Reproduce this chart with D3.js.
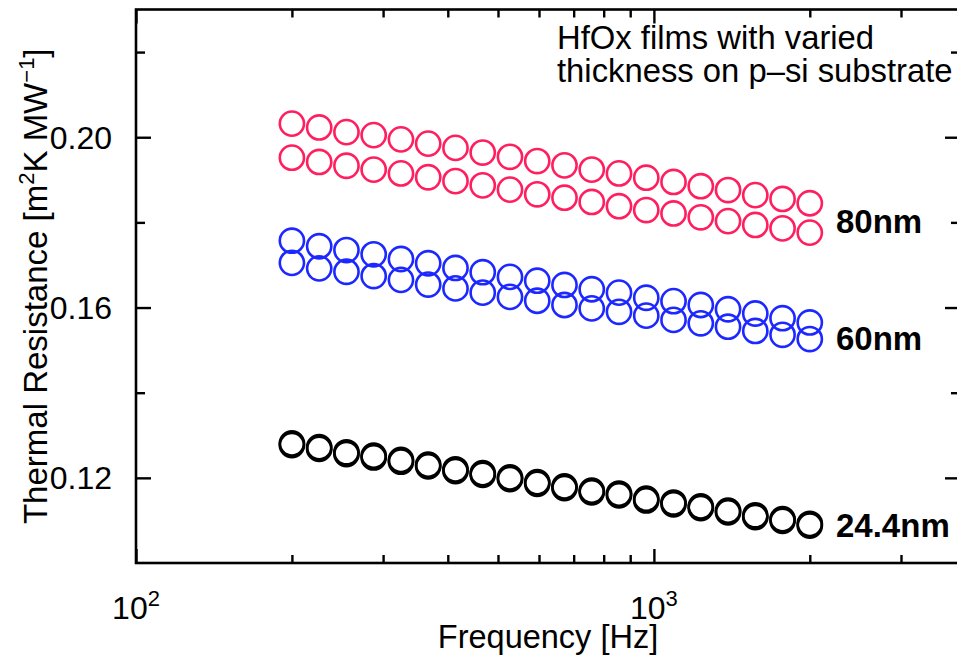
<!DOCTYPE html>
<html>
<head>
<meta charset="utf-8">
<script src="https://cdn.jsdelivr.net/npm/d3@7"></script>
<style>
  html, body { margin: 0; padding: 0; background: #fff; }
  svg { display: block; font-family: "Liberation Sans", Arial, Helvetica, sans-serif; }
</style>
</head>
<body>
<svg id="chart" width="957" height="660"></svg>
<script>
// Measurement frequencies [Hz]
const freq = [200, 225.8, 254.9, 287.7, 324.8, 366.6, 413.9, 467.2, 527.4, 595.3,
              672.0, 758.6, 856.3, 966.6, 1091.2, 1231.8, 1390.5, 1569.6, 1771.9, 2000];

// Thermal resistance [m^2 K / MW] per film
const r80a = [0.2032, 0.2023, 0.2012, 0.2005, 0.1995, 0.1985, 0.1975, 0.1964, 0.1954, 0.1944,
              0.1934, 0.1924, 0.1915, 0.1905, 0.1895, 0.1885, 0.1876, 0.1864, 0.1855, 0.1845];
const r80b = [0.1952, 0.1942, 0.1933, 0.1924, 0.1915, 0.1906, 0.1897, 0.1887, 0.1877, 0.1866,
              0.1858, 0.1848, 0.1838, 0.1829, 0.1821, 0.1812, 0.1803, 0.1794, 0.1786, 0.1776];
const r60a = [0.1757, 0.1744, 0.1735, 0.1725, 0.1714, 0.1704, 0.1693, 0.1683, 0.1672, 0.1663,
              0.1653, 0.1643, 0.1635, 0.1623, 0.1615, 0.1606, 0.1596, 0.1586, 0.1575, 0.1565];
const r60b = [0.1705, 0.1692, 0.1684, 0.1674, 0.1665, 0.1654, 0.1645, 0.1635, 0.1625, 0.1616,
              0.1606, 0.1598, 0.1590, 0.1581, 0.1571, 0.1563, 0.1555, 0.1545, 0.1536, 0.1526];
const r24a = [0.1281, 0.1272, 0.1260, 0.1252, 0.1242, 0.1231, 0.1220, 0.1211, 0.1201, 0.1190,
              0.1180, 0.1170, 0.1163, 0.1151, 0.1142, 0.1133, 0.1123, 0.1112, 0.1103, 0.1092];
const r24b = [0.1277, 0.1268, 0.1256, 0.1248, 0.1238, 0.1227, 0.1216, 0.1207, 0.1197, 0.1186,
              0.1176, 0.1166, 0.1159, 0.1147, 0.1138, 0.1129, 0.1119, 0.1108, 0.1099, 0.1088];

const seriesNames = ["80nm A", "80nm B", "60nm A", "60nm B", "24.4nm A", "24.4nm B"];
const seriesValues = [r80a, r80b, r60a, r60b, r24a, r24b];
const seriesColors = ["#ff1f5f", "#ff1f5f", "#1c28ff", "#1c28ff", "#000000", "#000000"];

// Film labels next to the last points
const labelTexts = ["80nm", "60nm", "24.4nm"];

// Axis ticks
const xMajorTicks = [100, 1000];
const xMinorTicks = [200, 300, 400, 500, 600, 700, 800, 900, 2000, 3000];
const yMajorTicks = [0.12, 0.16, 0.20];
const yMinorTicks = [0.14, 0.18, 0.22];
const xExponents = ["2", "3"];

const svg = d3.select("#chart");

const x = d3.scaleLog().domain([100, 3900]).range([136, 960]);
const y = d3.scaleLinear().domain([0.10, 0.23]).range([563, 9.5]);

const plotLeft = x.range()[0], plotRight = x.range()[1];
const plotBottom = y.range()[0], plotTop = y.range()[1];

// Data markers: open circles
const groups = svg.append("g").attr("class", "series");
seriesValues.forEach((vals, i) => {
  groups.append("g")
    .attr("class", "s-" + i)
    .selectAll("circle")
    .data(vals.map((v, j) => ({ f: freq[j], v })))
    .join("circle")
    .attr("cx", d => x(d.f))
    .attr("cy", d => y(d.v))
    .attr("r", 12.1)
    .attr("fill", "none")
    .attr("stroke", seriesColors[i])
    .attr("stroke-width", 2.6);
});

// Axes (ticks point into the plot)
function tickAxis(axisFn, scale, ticks, size, transform) {
  const a = axisFn(scale).tickValues(ticks).tickSizeInner(-size).tickSizeOuter(0).tickFormat("");
  const g = svg.append("g").attr("transform", transform).call(a);
  g.select(".domain").remove();
  g.selectAll(".tick line").attr("stroke", "#000").attr("stroke-width", 2.4);
  return g;
}
tickAxis(d3.axisBottom, x, xMajorTicks, 14, `translate(0,${plotBottom})`);
tickAxis(d3.axisBottom, x, xMinorTicks, 8, `translate(0,${plotBottom})`);
tickAxis(d3.axisTop, x, xMajorTicks, 14, `translate(0,${plotTop})`);
tickAxis(d3.axisTop, x, xMinorTicks, 8, `translate(0,${plotTop})`);
tickAxis(d3.axisLeft, y, yMajorTicks, 15, `translate(${plotLeft},0)`);
tickAxis(d3.axisLeft, y, yMinorTicks, 9, `translate(${plotLeft},0)`);
tickAxis(d3.axisRight, y, yMajorTicks, 15, `translate(${plotRight},0)`);
tickAxis(d3.axisRight, y, yMinorTicks, 9, `translate(${plotRight},0)`);

// Frame
svg.append("rect")
  .attr("x", plotLeft).attr("y", plotTop)
  .attr("width", plotRight - plotLeft).attr("height", plotBottom - plotTop)
  .attr("fill", "none").attr("stroke", "#000").attr("stroke-width", 2.6);

// Y tick labels
svg.append("g").selectAll("text")
  .data(yMajorTicks)
  .join("text")
  .attr("x", plotLeft - 24)
  .attr("y", d => y(d))
  .attr("dy", "0.36em")
  .attr("text-anchor", "end")
  .attr("font-size", 32)
  .text(d => d.toFixed(2));

// X tick labels: powers of ten
const xl = svg.append("g").selectAll("text")
  .data(xMajorTicks)
  .join("text")
  .attr("x", d => x(d))
  .attr("y", 619)
  .attr("text-anchor", "middle")
  .attr("font-size", 32);
xl.append("tspan").text("10");
xl.append("tspan").attr("font-size", 22).attr("dy", -13).text((d, i) => xExponents[i]);

// Axis titles
svg.append("text")
  .attr("x", (plotLeft + plotRight) / 2)
  .attr("y", 648)
  .attr("text-anchor", "middle")
  .attr("font-size", 32.5)
  .text("Frequency [Hz]");

const yt = svg.append("text")
  .attr("transform", `translate(47,${(plotTop + plotBottom) / 2}) rotate(-90)`)
  .attr("text-anchor", "middle")
  .attr("font-size", 33);
yt.append("tspan").text("Thermal Resistance [m");
yt.append("tspan").attr("font-size", 22).attr("dy", -13).text("2");
yt.append("tspan").attr("dy", 13).text("K MW");
yt.append("tspan").attr("font-size", 22).attr("dy", -13).text("\u22121");
yt.append("tspan").attr("dy", 13).text("]");

// Annotation
const note = svg.append("text").attr("font-size", 32.8);
note.append("tspan").attr("x", 557).attr("y", 49).text("HfOx films with varied");
note.append("tspan").attr("x", 557).attr("y", 82).text("thickness on p\u2013si substrate");

// Film labels, placed beside the last pair of points of each film
const lastIdx = freq.length - 1;
const labelAnchors = [
  (r80a[lastIdx] + r80b[lastIdx]) / 2,
  (r60a[lastIdx] + r60b[lastIdx]) / 2,
  r24a[lastIdx]
];
const labelShift = [3, 7, 1];
svg.append("g").selectAll("text")
  .data(labelTexts)
  .join("text")
  .attr("x", 836)
  .attr("y", (d, i) => y(labelAnchors[i]) + labelShift[i])
  .attr("dy", "0.36em")
  .attr("font-size", 33)
  .attr("font-weight", "bold")
  .text(d => d);
</script>
</body>
</html>
